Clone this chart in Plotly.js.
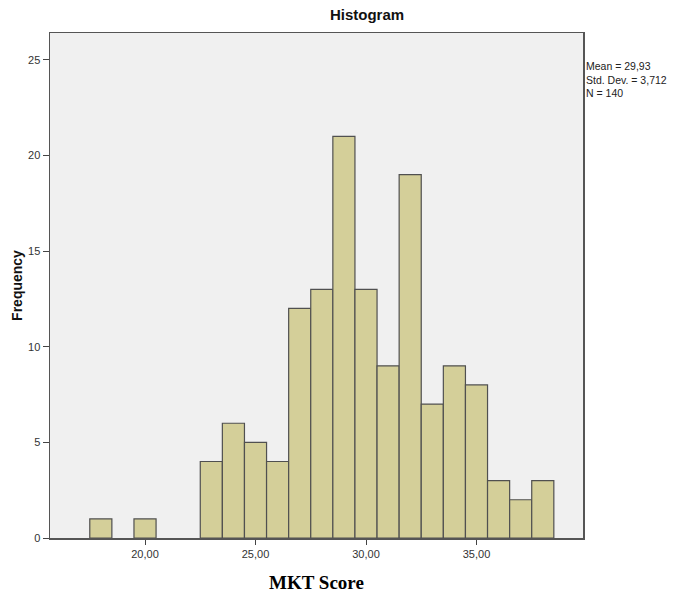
<!DOCTYPE html>
<html>
<head>
<meta charset="utf-8">
<script src="https://cdn.plot.ly/plotly-3.0.1.min.js"></script>
<style>html,body{margin:0;padding:0;background:#fff;}#chart{width:691px;height:597px;}</style>
</head>
<body>
<div id="chart"></div>
<script>
// Bin centres (bin width 1) and frequencies
const binCenters = [18, 20, 23, 24, 25, 26, 27, 28, 29, 30, 31, 32, 33, 34, 35, 36, 37, 38];
const frequencies = [1, 1, 4, 6, 5, 4, 12, 13, 21, 13, 9, 19, 7, 9, 8, 3, 2, 3];
const xTickValues = [20, 25, 30, 35];
const xTickLabels = ["20,00", "25,00", "30,00", "35,00"];
const yTickValues = [0, 5, 10, 15, 20, 25];
const statsLines = ["Mean = 29,93", "Std. Dev. = 3,712", "N = 140"];

const trace = {
  type: 'bar',
  x: binCenters,
  y: frequencies,
  width: 1,
  marker: {color: '#d4cf99', line: {color: '#505050', width: 1.2}},
  hoverinfo: 'x+y'
};

const layout = {
  width: 691, height: 597,
  margin: {l: 50, r: 108, t: 33, b: 59},
  paper_bgcolor: '#ffffff',
  plot_bgcolor: '#f0f0f0',
  showlegend: false,
  font: {family: 'Liberation Sans, Arial, sans-serif', color: '#222'},
  title: {text: '<b>Histogram</b>', font: {size: 15, family: 'Liberation Sans, Arial, sans-serif', color: '#111'},
          x: 367/691, xanchor: 'center', y: 1 - 15/597, yanchor: 'middle'},
  xaxis: {
    range: [15.7, 39.82],
    tickvals: xTickValues, ticktext: xTickLabels,
    ticks: 'outside', ticklen: 5, tickcolor: '#444',
    tickfont: {size: 11, color: '#333'},
    showgrid: false, zeroline: false,
    showline: true, linecolor: '#555', linewidth: 1.5, mirror: true,
    title: {text: '<b>MKT Score</b>', font: {size: 19, family: 'Liberation Serif, Times New Roman, serif', color: '#000'}, standoff: 17}
  },
  yaxis: {
    range: [0, 26.4],
    tickvals: yTickValues,
    ticks: 'outside', ticklen: 6, tickcolor: '#444',
    tickfont: {size: 11, color: '#333'},
    showgrid: false, zeroline: false,
    showline: true, linecolor: '#555', linewidth: 1.5, mirror: true,
    title: {text: '<b>Frequency</b>', font: {size: 14, color: '#111'}, standoff: 2}
  },
  annotations: [{
    xref: 'paper', yref: 'paper',
    x: 1, xshift: 1, y: (538 - 58) / 505, xanchor: 'left', yanchor: 'top',
    align: 'left', showarrow: false,
    text: statsLines.join('<br>'),
    font: {size: 10.5, color: '#222', family: 'Liberation Sans, Arial, sans-serif'}
  }]
};

Plotly.newPlot('chart', [trace], layout, {displayModeBar: false, staticPlot: true});
</script>
</body>
</html>
